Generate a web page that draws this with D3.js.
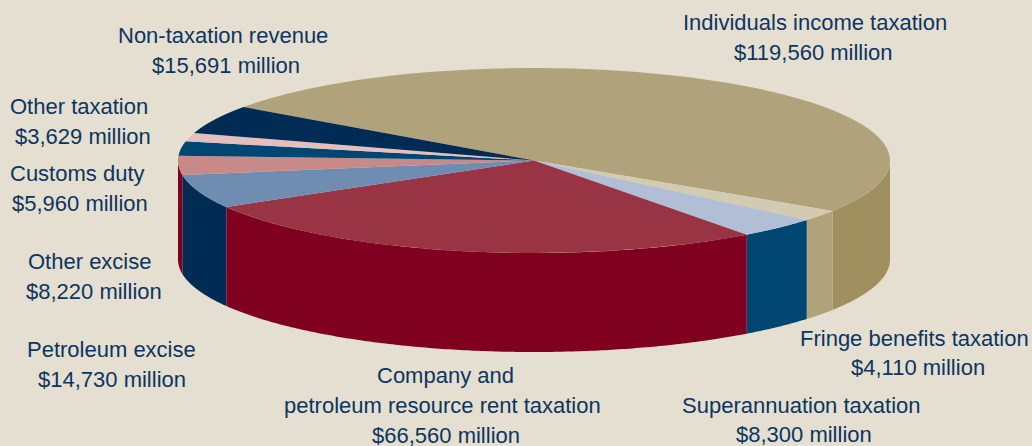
<!DOCTYPE html>
<html lang="en">

<head>
    <meta charset="UTF-8">
    <title>Taxation and non-taxation revenue</title>
    <script src="https://d3js.org/d3.v7.min.js"></script>
    <style>
        html, body { margin: 0; padding: 0; background: #e4dfd1; }
        svg { display: block; }
        text { font-family: "Liberation Sans", Arial, sans-serif; font-size: 22px; fill: #0c3560; }
    </style>
</head>

<body>

    <svg width="1032" height="446" id="mainsvg"></svg>

    <script>
        // clockwise from the top-left edge of the big slice
        const categories = ['Individuals income taxation', 'Fringe benefits taxation', 'Superannuation taxation',
            'Company and petroleum resource rent taxation', 'Petroleum excise', 'Other excise',
            'Customs duty', 'Other taxation', 'Non-taxation revenue'];
        // printed amounts, $ million
        const values = [119560, 4110, 8300, 66560, 14730, 8220, 5960, 3629, 15691];
        // slice sizes in degrees, the artwork does not follow the amounts exactly
        const sweeps = [177.7, 7, 13.3, 96.5, 21.2, 12, 9, 5.3, 18];
        const topColors = ['#b0a27b', '#d3cab2', '#b0bfd6', '#983443', '#6f8db0', '#c88a88', '#004672', '#e4bfbe', '#002b55'];
        const sideColors = ['#a09060', '#b0a27b', '#004672', '#800020', '#002b55', '#800020', '#004672', '#e4bfbe', '#002b55'];

        const money = v => '$' + d3.format(',')(v) + ' million';

        // label lines, with the left edge and baseline of each
        const labelLines = [
            [categories[0], 683, 30], [money(values[0]), 734, 60],
            [categories[1], 800, 346], [money(values[1]), 851, 375],
            [categories[2], 682, 413], [money(values[2]), 736, 442],
            ['Company and', 377, 383], ['petroleum resource rent taxation', 284, 413], [money(values[3]), 372, 443],
            [categories[4], 27, 357], [money(values[4]), 38, 387],
            [categories[5], 28, 269], [money(values[5]), 26, 299],
            [categories[6], 10, 181], [money(values[6]), 12, 211],
            [categories[7], 10, 114], [money(values[7]), 15, 144],
            [categories[8], 118, 43], [money(values[8]), 152, 73]
        ];

        const svg = d3.select('#mainsvg');
        const cx = 534, cy = 160.5, rx = 356, ry = 92.5, depth = 99;
        const toRad = Math.PI / 180;
        const startAngle = -54.7 * toRad;

        const slices = d3.pie().sort(null)
            .startAngle(startAngle)
            .endAngle(startAngle + 2 * Math.PI)(sweeps);

        const g = svg.append('g').attr('transform', `translate(${cx},${cy})`);

        // the rim: only the part between 90 and 270 degrees faces the viewer
        const rim = d3.area()
            .x(a => rx * Math.sin(a))
            .y0(a => -ry * Math.cos(a))
            .y1(a => -ry * Math.cos(a) + depth);

        slices.forEach((s, i) => {
            const a0 = Math.max(s.startAngle, Math.PI / 2);
            const a1 = Math.min(s.endAngle, 3 * Math.PI / 2);
            if (a1 <= a0) return;
            const steps = d3.range(a0, a1, 0.01).concat([a1]);
            g.append('path').attr('d', rim(steps)).attr('fill', sideColors[i]);
        });

        // top face: a circular pie squashed into an ellipse
        const arc = d3.arc().innerRadius(0).outerRadius(rx);
        g.append('g')
            .attr('transform', `scale(1,${ry / rx})`)
            .selectAll('path')
            .data(slices)
            .enter()
            .append('path')
            .attr('d', arc)
            .attr('fill', (d, i) => topColors[i]);

        svg.append('g').selectAll('text')
            .data(labelLines)
            .enter()
            .append('text')
            .attr('x', d => d[1])
            .attr('y', d => d[2])
            .text(d => d[0]);
    </script>
</body>

</html>
